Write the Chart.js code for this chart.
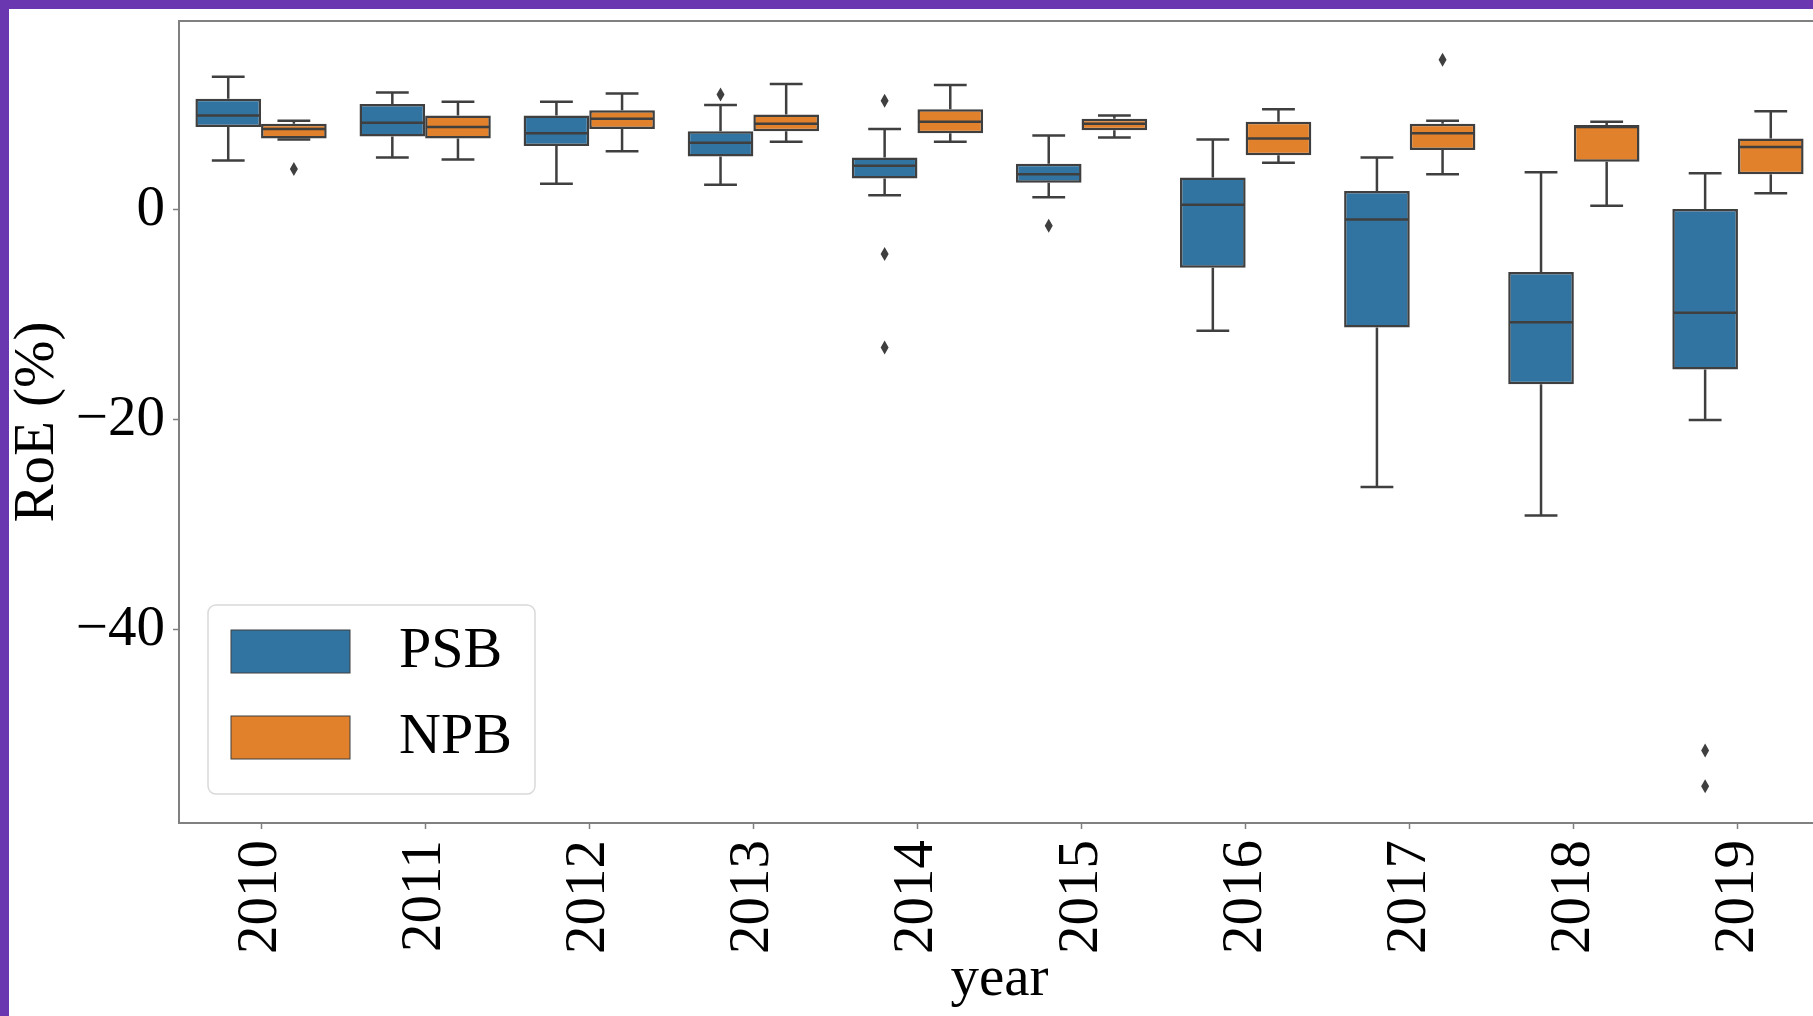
<!DOCTYPE html>
<html>
<head>
<meta charset="utf-8">
<script src="https://cdn.jsdelivr.net/npm/chart.js@4.4.1/dist/chart.umd.min.js"></script>
<style>
    html, body { margin: 0; padding: 0; overflow: hidden; background: #6b37b0; }
    #wrap { position: absolute; left: 9px; top: 9px; width: 1830px; height: 1007px; background: #fff; }
</style>
</head>
<body>
<div id="wrap"><canvas id="roeChart" width="1830" height="1007"></canvas></div>
<script>
const years = ['2010', '2011', '2012', '2013', '2014', '2015', '2016', '2017', '2018', '2019'];
const yTicks = [0, -20, -40];

// PSB: lower whisker, Q1, median, Q3, upper whisker, outliers
const psbLow  = [4.7, 5.0, 2.5, 2.4, 1.4, 1.2, -11.5, -26.4, -29.1, -20.0];
const psbQ1   = [7.9, 7.0, 6.1, 5.1, 3.0, 2.6, -5.5, -11.2, -16.6, -15.2];
const psbMed  = [9.0, 8.3, 7.3, 6.4, 4.2, 3.4, 0.5, -0.9, -10.7, -9.8];
const psbQ3   = [10.6, 10.1, 9.0, 7.5, 5.0, 4.4, 3.1, 1.8, -5.9, 0.1];
const psbHigh = [12.7, 11.2, 10.3, 10.0, 7.7, 7.1, 6.7, 5.0, 3.6, 3.5];
const psbOut  = [[], [], [], [11.0], [10.4, -4.2, -13.1], [-1.5], [], [], [], [-51.5, -54.9]];

// NPB
const npbLow  = [6.7, 4.8, 5.6, 6.5, 6.5, 6.9, 4.5, 3.4, 0.4, 1.6];
const npbQ1   = [6.8, 6.8, 7.7, 7.5, 7.3, 7.6, 5.2, 5.7, 4.6, 3.4];
const npbMed  = [7.7, 7.9, 8.7, 8.2, 8.4, 8.2, 6.8, 7.3, 7.9, 6.0];
const npbQ3   = [8.2, 9.0, 9.5, 9.1, 9.6, 8.7, 8.4, 8.2, 8.1, 6.8];
const npbHigh = [8.5, 10.3, 11.1, 12.0, 11.9, 9.0, 9.6, 8.5, 8.4, 9.4];
const npbOut  = [[3.9], [], [], [], [], [], [], [14.3], [], []];

const yMin = -58.4;
const yMax = 18.0;
const lineGray = '#3f3f3f';
const spineGray = '#808080';

Chart.defaults.font.family = '"Liberation Serif", "Times New Roman", serif';
Chart.defaults.color = '#000';

// whiskers, caps, medians and fliers, placed on each box through the y scale
const whiskerPlugin = {
    id: 'whiskers',
    afterDatasetsDraw(chart) {
        const { ctx, chartArea: a } = chart;
        const yScale = chart.scales.y;
        const py = (v) => yScale.getPixelForValue(v);
        ctx.save();
        ctx.beginPath();
        ctx.rect(a.left, a.top, a.right - a.left, a.bottom - a.top);
        ctx.clip();
        ctx.strokeStyle = lineGray;
        ctx.fillStyle = lineGray;
        ctx.lineWidth = 2.5;
        chart.data.datasets.forEach((ds, di) => {
            const s = ds.stats;
            if (!s) return;
            chart.getDatasetMeta(di).data.forEach((bar, i) => {
                const x = bar.x, half = bar.width / 2, cap = bar.width / 4;
                ctx.beginPath();
                ctx.moveTo(x, py(s.low[i])); ctx.lineTo(x, py(s.q1[i]));
                ctx.moveTo(x, py(s.q3[i])); ctx.lineTo(x, py(s.high[i]));
                ctx.moveTo(x - cap, py(s.low[i])); ctx.lineTo(x + cap, py(s.low[i]));
                ctx.moveTo(x - cap, py(s.high[i])); ctx.lineTo(x + cap, py(s.high[i]));
                ctx.moveTo(x - half + 1, py(s.med[i])); ctx.lineTo(x + half - 1, py(s.med[i]));
                ctx.stroke();
                s.out[i].forEach((v) => {
                    const y = py(v);
                    ctx.beginPath();
                    ctx.moveTo(x, y - 7); ctx.lineTo(x + 4, y); ctx.lineTo(x, y + 7); ctx.lineTo(x - 4, y);
                    ctx.closePath();
                    ctx.fill();
                });
            });
        });
        ctx.restore();
    }
};

const framePlugin = {
    id: 'frame',
    afterDatasetsDraw(chart) {
        const { ctx, chartArea: a } = chart;
        ctx.save();
        ctx.strokeStyle = spineGray;
        ctx.lineWidth = 2;
        ctx.strokeRect(a.left, a.top, a.right - a.left, a.bottom - a.top);
        ctx.restore();
    }
};

const legendPlugin = {
    id: 'boxLegend',
    afterDraw(chart) {
        const { ctx, chartArea: a } = chart;
        const left = a.left + 29, top = a.bottom - 218;
        ctx.save();
        ctx.fillStyle = 'rgba(255,255,255,0.8)';
        ctx.strokeStyle = '#d9d9d9';
        ctx.lineWidth = 1.5;
        ctx.beginPath();
        ctx.roundRect(left, top, 327, 189, 8);
        ctx.fill();
        ctx.stroke();
        chart.data.datasets.forEach((d, k) => {
            const y = top + 25 + k * 86;
            ctx.fillStyle = d.backgroundColor;
            ctx.fillRect(left + 23, y, 119, 43);
            ctx.strokeStyle = lineGray;
            ctx.lineWidth = 1;
            ctx.strokeRect(left + 23, y, 119, 43);
            ctx.fillStyle = '#000';
            ctx.font = '58px "Liberation Serif", "Times New Roman", serif';
            ctx.textBaseline = 'middle';
            ctx.textAlign = 'left';
            ctx.fillText(d.label, left + 191, y + 21.5);
        });
        ctx.restore();
    }
};

const ctx = document.getElementById('roeChart').getContext('2d');
new Chart(ctx, {
    type: 'bar',
    data: {
        labels: years,
        datasets: [
            {
                label: 'PSB',
                data: years.map((_, i) => [psbQ1[i], psbQ3[i]]),
                stats: { low: psbLow, q1: psbQ1, med: psbMed, q3: psbQ3, high: psbHigh, out: psbOut },
                backgroundColor: '#3274a1', borderColor: lineGray, borderWidth: 2.5,
                borderSkipped: false, categoryPercentage: 0.8, barPercentage: 1.0
            },
            {
                label: 'NPB',
                data: years.map((_, i) => [npbQ1[i], npbQ3[i]]),
                stats: { low: npbLow, q1: npbQ1, med: npbMed, q3: npbQ3, high: npbHigh, out: npbOut },
                backgroundColor: '#e1812c', borderColor: lineGray, borderWidth: 2.5,
                borderSkipped: false, categoryPercentage: 0.8, barPercentage: 1.0
            }
        ]
    },
    options: {
        responsive: false,
        animation: false,
        devicePixelRatio: 1,
        events: [],
        layout: { padding: { left: 0, top: 12, right: 19, bottom: 0 } },
        plugins: { legend: { display: false }, tooltip: { enabled: false } },
        scales: {
            x: {
                type: 'category',
                offset: true,
                grid: { drawOnChartArea: false, drawTicks: true, tickLength: 6, tickColor: spineGray, tickWidth: 1.5, offset: false },
                border: { display: false },
                ticks: { color: '#000', font: { size: 57 }, minRotation: 90, maxRotation: 90, autoSkip: false, padding: 11 },
                title: { display: true, text: 'year', color: '#000', font: { size: 57 }, padding: { top: 0, bottom: 2 } },
                afterFit: (s) => { s.height = 193; s.paddingLeft = 0; s.paddingRight = 0; }
            },
            y: {
                type: 'linear',
                min: yMin,
                max: yMax,
                grid: { drawOnChartArea: false, drawTicks: true, tickLength: 6, tickColor: spineGray, tickWidth: 1.5 },
                border: { display: false },
                ticks: {
                    color: '#000', font: { size: 57 }, padding: 8,
                    callback: (v) => v < 0 ? '\u2212' + Math.abs(v) : String(v)
                },
                title: { display: true, text: 'RoE (%)', color: '#000', font: { size: 57 }, padding: { top: -5, bottom: 0 } },
                afterBuildTicks: (s) => { s.ticks = yTicks.map(v => ({ value: v })); },
                afterFit: (s) => { s.width = 170; s.paddingTop = 0; s.paddingBottom = 0; }
            }
        }
    },
    plugins: [whiskerPlugin, framePlugin, legendPlugin]
});
</script>
</body>
</html>
